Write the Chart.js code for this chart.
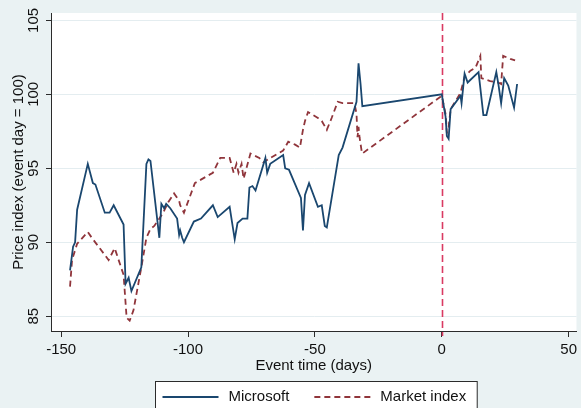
<!DOCTYPE html>
<html><head><meta charset="utf-8">
<script src="https://cdn.jsdelivr.net/npm/chart.js@4/dist/chart.umd.min.js"></script>
<style>html,body{margin:0;padding:0;background:#eaf2f3;overflow:hidden}canvas{display:block}</style>
</head><body>
<canvas id="c" width="581" height="408"></canvas>
<script>
// ---- data ----
const msDays = [-146.5,-145.3,-144.5,-143.7,-139.5,-137.5,-136.5,-132.8,-130.9,-129.3,-125.4,-124.6,-123.4,-122.3,-118.4,-116.4,-115.6,-114.8,-111.3,-110.5,-109.4,-108.6,-107.0,-104.3,-103.5,-103.1,-102.3,-101.6,-97.7,-94.9,-90.2,-88.3,-83.6,-81.6,-80.5,-78.5,-76.6,-75.8,-74.6,-73.4,-69.5,-68.8,-67.6,-62.5,-61.7,-60.2,-55.5,-54.7,-53.9,-52.3,-48.8,-47.3,-46.1,-45.3,-40.6,-39.1,-33.6,-32.8,-32.0,-31.3,0,1.5,2.0,2.7,3.5,7.4,7.8,9.0,10.2,14.5,16.4,17.6,21.5,22.3,23.4,24.6,26.2,28.5,29.7];
const msValues = [88.1,89.7,90.0,92.2,95.3,94.0,93.9,92.0,92.0,92.5,91.2,87.2,87.6,86.7,88.3,95.3,95.6,95.5,90.3,92.6,92.3,92.6,92.3,91.6,90.5,90.8,90.3,90.0,91.4,91.6,92.5,91.7,92.4,90.2,91.3,91.6,91.6,93.7,93.8,93.5,95.7,94.7,95.3,95.9,95.0,94.9,93.0,90.8,93.2,94.0,92.4,92.5,91.1,91.0,95.9,96.4,99.5,102.1,100.7,99.2,100.0,98.5,97.2,97.0,99.0,99.9,99.4,101.4,100.8,101.5,98.6,98.6,101.5,100.7,99.4,101.1,100.6,99.1,100.7];
const mktDays = [-146.5,-145.7,-143.7,-139.5,-137.9,-131.3,-128.9,-125.4,-124.2,-123.0,-121.5,-118.4,-116.4,-114.8,-113.3,-111.3,-109.8,-107.8,-105.5,-103.5,-103.1,-101.6,-97.3,-90.2,-87.3,-83.6,-82.0,-80.9,-80.1,-78.9,-78.1,-75.4,-71.9,-70.3,-67.6,-62.5,-60.5,-57.8,-55.9,-54.7,-53.9,-52.7,-48.8,-47.3,-45.3,-43.4,-41.0,-39.1,-34.4,-33.6,-33.2,-32.8,-32.4,-31.6,-31.3,0,1.6,2.0,2.7,3.5,7.4,9.0,11.3,13.3,15.2,15.6,19.1,22.3,23.4,24.2,27.0,28.9];
const mktValues = [87.0,88.8,89.9,90.7,90.3,88.8,89.6,87.8,84.9,84.7,85.4,88.3,90.3,90.9,91.1,91.6,92.0,92.7,93.3,92.8,92.5,92.0,94.0,94.7,95.7,95.7,94.7,95.3,94.7,95.3,94.3,96.0,95.7,95.4,95.7,96.2,96.8,96.6,96.4,97.6,98.2,98.8,98.4,98.2,97.6,98.4,99.5,99.4,99.4,98.7,97.1,97.8,97.1,96.2,96.0,99.9,98.6,97.4,97.8,99.0,100.1,101.2,101.6,101.8,102.6,101.1,100.9,100.8,100.7,102.6,102.4,102.3];
const seriesNames = ['Microsoft', 'Market index'];
const xTickValues = [-150, -100, -50, 0, 50];
const yTickValues = [85, 90, 95, 100, 105];
const eventDay = 0;
const xTitle = 'Event time (days)';
const yTitle = 'Price index (event day = 100)';

// ---- styling ----
const FONT = "'Liberation Sans', Arial, Helvetica, sans-serif";
const FS = 15;
const BLUE = '#1a476f', RED = '#90353b', VLINE = '#d93a62';
const OUTER = '#eaf2f3', AXIS = '#2b2b2b', TEXT = '#111111';

const bgPlugin = {
  id: 'bg',
  beforeDraw(chart) {
    const {ctx, chartArea: a} = chart;
    ctx.save();
    ctx.fillStyle = OUTER; ctx.fillRect(0, 0, chart.width, chart.height);
    ctx.fillStyle = '#ffffff'; ctx.fillRect(a.left, a.top, a.right - a.left, a.bottom - a.top);
    ctx.restore();
  }
};
const eventLine = {
  id: 'eventLine',
  beforeDatasetsDraw(chart) {
    const {ctx, chartArea: a, scales: {x}} = chart;
    const px = Math.round(x.getPixelForValue(eventDay)) + 0.5;
    ctx.save();
    ctx.strokeStyle = VLINE; ctx.lineWidth = 1.6; ctx.setLineDash([7, 4]);
    ctx.beginPath(); ctx.moveTo(px, a.top); ctx.lineTo(px, a.bottom + 5); ctx.stroke();
    ctx.restore();
  }
};
const boxLegend = {
  id: 'boxLegend',
  afterDraw(chart) {
    const {ctx, chartArea: a} = chart;
    const ds = chart.data.datasets;
    ctx.save();
    ctx.font = FS + 'px ' + FONT;
    const sample = 56, gapT = 10, gapItem = 25, padL = 7, padR = 11;
    let total = padL + padR;
    ds.forEach((d, i) => { total += sample + gapT + ctx.measureText(d.label).width + (i ? gapItem : 0); });
    const cx = (a.left + a.right) / 2 + 2;
    const left = Math.round(cx - total / 2) + 0.5, top = a.bottom + 50.5;
    ctx.fillStyle = '#fff'; ctx.fillRect(left, top, total, 60);
    ctx.strokeStyle = AXIS; ctx.lineWidth = 1; ctx.strokeRect(left, top, total, 60);
    let xx = left + padL; const yy = top + 15.5;
    ds.forEach((d, i) => {
      if (i) xx += gapItem;
      ctx.strokeStyle = d.borderColor; ctx.lineWidth = d.borderWidth;
      ctx.setLineDash(d.borderDash || []);
      ctx.beginPath(); ctx.moveTo(xx, yy); ctx.lineTo(xx + sample, yy); ctx.stroke();
      xx += sample + gapT;
      ctx.fillStyle = TEXT; ctx.textBaseline = 'middle'; ctx.textAlign = 'left';
      ctx.fillText(d.label, xx, yy);
      xx += ctx.measureText(d.label).width;
    });
    ctx.restore();
  }
};

new Chart(document.getElementById('c'), {
  type: 'line',
  data: {
    datasets: [
      { label: seriesNames[0], data: msDays.map((d, i) => ({x: d, y: msValues[i]})),
        borderColor: BLUE, borderWidth: 1.8, pointRadius: 0, tension: 0, fill: false },
      { label: seriesNames[1], data: mktDays.map((d, i) => ({x: d, y: mktValues[i]})),
        borderColor: RED, borderWidth: 1.8, borderDash: [6, 4], pointRadius: 0, tension: 0, fill: false }
    ]
  },
  options: {
    responsive: false, animation: false, devicePixelRatio: 1,
    layout: { padding: { left: 0, right: 2, top: 13, bottom: 32 } },
    plugins: { legend: { display: false }, tooltip: { enabled: false } },
    scales: {
      x: {
        type: 'linear', min: -154, max: 53.1,
        afterBuildTicks: s => { s.ticks = xTickValues.map(v => ({value: v})); },
        afterFit: s => { s.height = 45; },
        grid: { drawOnChartArea: false, tickLength: 6, tickColor: AXIS, tickWidth: 1 },
        border: { color: AXIS, width: 1 },
        ticks: { font: { family: FONT, size: FS }, color: TEXT, padding: 4, maxRotation: 0, minRotation: 0 },
        title: { display: true, text: xTitle, font: { family: FONT, size: FS }, color: TEXT, padding: { top: 0, bottom: 1 } }
      },
      y: {
        type: 'linear', min: 84, max: 105.5,
        afterBuildTicks: s => { s.ticks = yTickValues.map(v => ({value: v})); },
        afterFit: s => { s.width = 51; },
        grid: { color: '#e4edf0', lineWidth: 1, tickLength: 5, tickColor: AXIS },
        border: { color: AXIS, width: 1 },
        ticks: { font: { family: FONT, size: FS }, color: TEXT, padding: 0, minRotation: 90, maxRotation: 90, crossAlign: 'center' },
        title: { display: true, text: yTitle, font: { family: FONT, size: FS }, color: TEXT, padding: { top: 10, bottom: 0 } }
      }
    }
  },
  plugins: [bgPlugin, eventLine, boxLegend]
});
</script>
</body></html>
